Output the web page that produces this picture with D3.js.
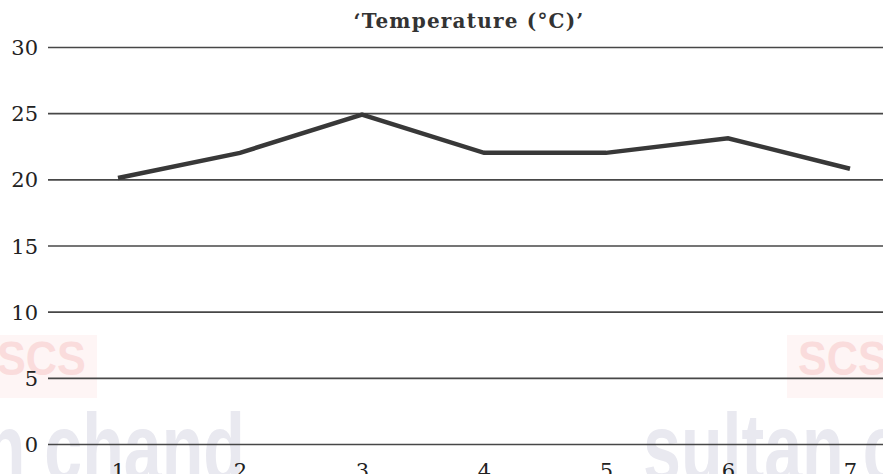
<!DOCTYPE html>
<html>
<head>
<meta charset="utf-8">
<script src="https://cdn.jsdelivr.net/npm/d3@7"></script>
<style>
html,body{margin:0;padding:0;background:#fff;overflow:hidden;}
svg{display:block;}
</style>
</head>
<body>
<svg id="chart" width="883" height="474"></svg>
<script>
const days = [1, 2, 3, 4, 5, 6, 7];
const temperature = [20.1, 22, 24.9, 22, 22, 23.1, 20.8];
const yTicks = [0, 5, 10, 15, 20, 25, 30];
const titleText = "\u2018Temperature (\u00B0C)\u2019";
const watermarkBrand = "sultan chand";
const watermarkLogo = "SCS";

const svg = d3.select("#chart");
const W = 883, H = 474;

// faint background watermark (publisher's mark in the reference)
const wm = svg.append("g").attr("class", "watermark");
[[-3, 0], [798, 787]].forEach(p => {
  wm.append("rect").attr("x", p[1]).attr("y", 335).attr("width", 97).attr("height", 63)
    .attr("fill", "#fef5f5");
  wm.append("text").attr("x", p[0]).attr("y", 375)
    .attr("transform", `translate(${p[0]},0) scale(0.9,1) translate(${-p[0]},0)`)
    .attr("font-family", "Liberation Sans, Arial, sans-serif").attr("font-weight", "bold")
    .attr("font-size", 48).attr("fill", "#fadcdc").text(watermarkLogo);
});
[[245, "end"], [643, "start"]].forEach(p => {
  wm.append("text").attr("x", p[0]).attr("y", 481).attr("text-anchor", p[1])
    .attr("transform", `translate(${p[0]},0) scale(0.71,1) translate(${-p[0]},0)`)
    .attr("font-family", "Liberation Sans, Arial, sans-serif").attr("font-weight", "bold")
    .attr("font-size", 96).attr("fill", "#e9e9f0").text(watermarkBrand);
});

const x = d3.scalePoint().domain(days).range([118, 850]);
const y = d3.scaleLinear().domain([0, 30]).range([444, 47]);

// gridlines via axis
const yAxis = d3.axisLeft(y).tickValues(yTicks).tickSize(-(W - 48)).tickPadding(10);
const gy = svg.append("g").attr("transform", "translate(48,0)").call(yAxis);
gy.select(".domain").remove();
gy.selectAll(".tick line").attr("stroke", "#474747").attr("stroke-width", 1.6);
gy.selectAll(".tick text")
  .attr("font-family", "DejaVu Serif, serif").attr("font-size", 21)
  .attr("fill", "#222").attr("dy", "0.36em");

// x labels
const xAxis = d3.axisBottom(x).tickSize(0).tickPadding(0);
const gx = svg.append("g").attr("transform", "translate(0,460)").call(xAxis);
gx.select(".domain").remove();
gx.selectAll(".tick text")
  .attr("font-family", "DejaVu Serif, serif").attr("font-size", 21)
  .attr("fill", "#222").attr("dy", "0.86em");

// line
const line = d3.line().x((d, i) => x(days[i])).y(d => y(d));
svg.append("path").datum(temperature)
  .attr("d", line).attr("fill", "none")
  .attr("stroke", "#383838").attr("stroke-width", 4.5)
  .attr("stroke-linejoin", "miter");

// title
svg.append("text").attr("x", 469).attr("y", 28).attr("text-anchor", "middle")
  .attr("font-family", "DejaVu Serif, serif").attr("font-weight", "bold")
  .attr("font-size", 20).attr("letter-spacing", 1.2)
  .attr("fill", "#333").text(titleText);
</script>
</body>
</html>
